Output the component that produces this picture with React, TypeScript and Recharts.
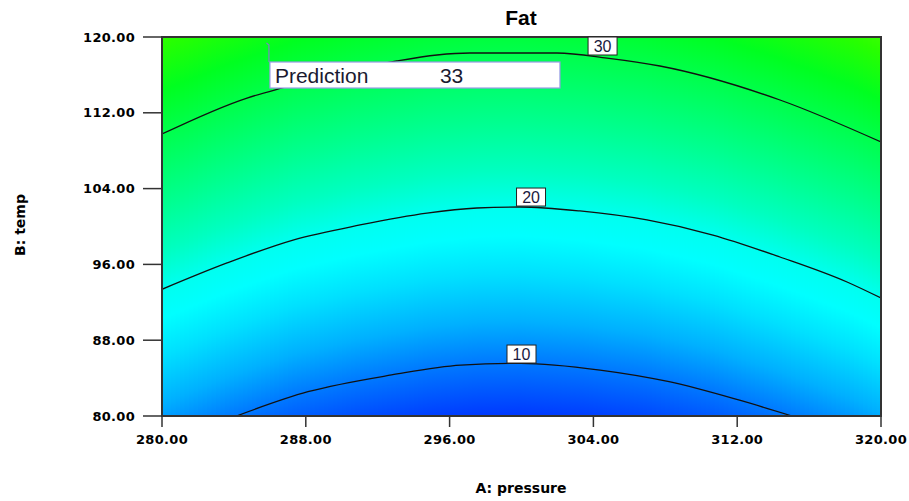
import React from 'react';
import {
  ComposedChart,
  Line,
  XAxis,
  YAxis,
  ReferenceArea,
  ReferenceDot,
} from 'recharts';

// ---------------- data ----------------
const pressureTicks = [280, 288, 296, 304, 312, 320];
const tempTicks = [80, 88, 96, 104, 112, 120];

const contour10 = [
  { pressure: 284.14, temp: 80.0 },
  { pressure: 288.12, temp: 82.56 },
  { pressure: 292.77, temp: 84.33 },
  { pressure: 296.63, temp: 85.38 },
  { pressure: 299.97, temp: 85.56 },
  { pressure: 304.37, temp: 84.85 },
  { pressure: 308.21, temp: 83.62 },
  { pressure: 312.08, temp: 81.69 },
  { pressure: 315.05, temp: 80.0 },
];

const contour20 = [
  { pressure: 280.0, temp: 93.37 },
  { pressure: 283.62, temp: 96.15 },
  { pressure: 287.29, temp: 98.57 },
  { pressure: 291.02, temp: 100.16 },
  { pressure: 294.74, temp: 101.42 },
  { pressure: 297.52, temp: 101.95 },
  { pressure: 299.92, temp: 102.06 },
  { pressure: 303.25, temp: 101.64 },
  { pressure: 306.98, temp: 100.69 },
  { pressure: 310.65, temp: 99.1 },
  { pressure: 314.38, temp: 96.78 },
  { pressure: 318.11, temp: 94.14 },
  { pressure: 320.0, temp: 92.45 },
];

const contour30 = [
  { pressure: 280.0, temp: 109.76 },
  { pressure: 284.73, temp: 113.56 },
  { pressure: 286.68, temp: 114.62 },
  { pressure: 293.07, temp: 117.47 },
  { pressure: 295.3, temp: 118.1 },
  { pressure: 297.13, temp: 118.31 },
  { pressure: 301.97, temp: 118.31 },
  { pressure: 304.76, temp: 117.78 },
  { pressure: 307.7, temp: 116.94 },
  { pressure: 314.38, temp: 113.35 },
  { pressure: 320.0, temp: 108.92 },
];

const contourLabels = [
  { level: 30, pressure: 304.51, temp: 119.05 },
  { level: 20, pressure: 300.53, temp: 103.11 },
  { level: 10, pressure: 300.0, temp: 86.54 },
];

const predictionPoint = { pressure: 285.95, temp: 119.26 };
const predictionLabel = 'Prediction';
const predictionValue = 33;

// ---------------- styles ----------------
const W = 909;
const H = 501;
const AXIS_COLOR = '#333';
const TICK_FONT = { fill: '#000', fontSize: 13, fontWeight: 700, fontFamily: 'DejaVu Sans', letterSpacing: 0.3 };

// colour map in "centre-equivalent temperature" units (ascending)
const colorMap = [
  { v: 76, c: '#0020ff' },
  { v: 80, c: '#0038ff' },
  { v: 85.6, c: '#0078ff' },
  { v: 90, c: '#00b0ff' },
  { v: 95, c: '#00e0ff' },
  { v: 99, c: '#00ffff' },
  { v: 102, c: '#00fff0' },
  { v: 106, c: '#00ffc0' },
  { v: 111, c: '#00ff90' },
  { v: 118, c: '#00ff50' },
  { v: 123, c: '#00ff20' },
  { v: 128, c: '#28ff00' },
  { v: 132, c: '#50ff00' },
];
const colorMapTopDown = [...colorMap].reverse();
const V_TOP = colorMap[colorMap.length - 1].v;
const V_BOT = colorMap[0].v;

function interpTemp(pts: { pressure: number; temp: number }[], x: number) {
  if (x <= pts[0].pressure) return pts[0].temp;
  for (let i = 1; i < pts.length; i++) {
    if (x <= pts[i].pressure) {
      const a = pts[i - 1];
      const b = pts[i];
      const t = (x - a.pressure) / (b.pressure - a.pressure);
      return a.temp + t * (b.temp - a.temp);
    }
  }
  return pts[pts.length - 1].temp;
}

const peak20 = Math.max(...contour20.map((p) => p.temp));
const STRIP = 0.25;
const X0 = pressureTicks[0];
const X1 = pressureTicks[pressureTicks.length - 1];
const Y0 = tempTicks[0];
const Y1 = tempTicks[tempTicks.length - 1];
const stripCount = Math.round((X1 - X0) / STRIP);
const strips = Array.from({ length: stripCount }, (_, i) => {
  const x1 = X0 + i * STRIP;
  const xm = x1 + STRIP / 2;
  const D = peak20 - interpTemp(contour20, xm);
  const span = Y1 - Y0;
  return {
    id: `bg${i}`,
    x1,
    x2: Math.min(X1, x1 + STRIP * 1.6),
    gy1: (Y1 - (V_TOP - D)) / span,
    gy2: (Y1 - (V_BOT - D)) / span,
  };
});

const ContourLabel = (props: any) => {
  const { cx, cy, level } = props;
  if (cx == null || cy == null) return null;
  return (
    <g>
      <rect x={cx - 14.5} y={cy - 9} width={29} height={18} fill="#fff" stroke="#222" strokeWidth={1} />
      <text
        x={cx}
        y={cy + 0.5}
        textAnchor="middle"
        dominantBaseline="central"
        fontFamily="Liberation Sans, Arial, sans-serif"
        fontSize={16}
        fill="#1a1a40"
      >
        {level}
      </text>
    </g>
  );
};

const PredictionFlag = (props: any) => {
  const { cx, cy } = props;
  if (cx == null || cy == null) return null;
  return (
    <g>
      <path d={`M${cx - 2.5},${cy - 1} L${cx},${cy + 1} L${cx},${cy + 18}`} stroke="#8080c8" strokeWidth={1.2} fill="none" />
      <rect x={cx + 1} y={cy + 18} width={290} height={26} fill="#fff" stroke="#9a9ae6" strokeWidth={1.2} />
      <text x={cx + 6} y={cy + 38.5} fontFamily="Liberation Sans, Arial, sans-serif" fontSize={21} fill="#1a1a30">
        {predictionLabel}
      </text>
      <text x={cx + 171} y={cy + 38.5} fontFamily="Liberation Sans, Arial, sans-serif" fontSize={21} fill="#1a1a30">
        {predictionValue}
      </text>
    </g>
  );
};

export default function App() {
  return (
    <div style={{ position: 'absolute', left: 0, top: 0, width: W, height: H, background: '#fff' }}>
      <ComposedChart width={W} height={H} margin={{ top: 37, right: 28, left: 0, bottom: 0 }}>
        <defs>
          {strips.map((s) => (
            <linearGradient key={s.id} id={s.id} x1="0" y1={s.gy1} x2="0" y2={s.gy2}>
              {colorMapTopDown.map((m) => (
                <stop key={m.v} offset={(V_TOP - m.v) / (V_TOP - V_BOT)} stopColor={m.c} />
              ))}
            </linearGradient>
          ))}
        </defs>
        <XAxis
          type="number"
          dataKey="pressure"
          domain={[X0, X1]}
          ticks={pressureTicks}
          allowDataOverflow
          height={85}
          tickSize={11}
          tickMargin={8}
          tickFormatter={(v: number) => v.toFixed(2)}
          tick={TICK_FONT}
          axisLine={{ stroke: AXIS_COLOR, strokeWidth: 2 }}
          tickLine={{ stroke: AXIS_COLOR, strokeWidth: 1.5 }}
        />
        <YAxis
          type="number"
          dataKey="temp"
          domain={[Y0, Y1]}
          ticks={tempTicks}
          allowDataOverflow
          width={162}
          tickSize={19}
          tickMargin={8}
          tickFormatter={(v: number) => v.toFixed(2)}
          tick={TICK_FONT}
          axisLine={{ stroke: AXIS_COLOR, strokeWidth: 2 }}
          tickLine={{ stroke: AXIS_COLOR, strokeWidth: 1.5 }}
        />
        {strips.map((s) => (
          <ReferenceArea
            key={s.id}
            x1={s.x1}
            x2={s.x2}
            y1={Y0}
            y2={Y1}
            fill={`url(#${s.id})`}
            fillOpacity={1}
            stroke="none"
            zIndex={50}
          />
        ))}
        <Line data={contour10} dataKey="temp" type="monotone" stroke="#111" strokeWidth={1.3} dot={false} activeDot={false} isAnimationActive={false} />
        <Line data={contour20} dataKey="temp" type="monotone" stroke="#111" strokeWidth={1.3} dot={false} activeDot={false} isAnimationActive={false} />
        <Line data={contour30} dataKey="temp" type="monotone" stroke="#111" strokeWidth={1.3} dot={false} activeDot={false} isAnimationActive={false} />
        <ReferenceArea x1={X0} x2={X1} y1={Y0} y2={Y1} fill="none" fillOpacity={0} stroke={AXIS_COLOR} strokeWidth={2} zIndex={650} />
        {contourLabels.map((l) => (
          <ReferenceDot
            key={l.level}
            x={l.pressure}
            y={l.temp}
            zIndex={700}
            shape={(p: any) => <ContourLabel {...p} level={l.level} />}
          />
        ))}
        <ReferenceDot
          x={predictionPoint.pressure}
          y={predictionPoint.temp}
          zIndex={710}
          shape={(p: any) => <PredictionFlag {...p} />}
        />
      </ComposedChart>
      <div
        style={{
          position: 'absolute',
          left: 421,
          width: 200,
          top: 6,
          textAlign: 'center',
          fontFamily: 'Liberation Sans, Arial, sans-serif',
          fontWeight: 700,
          fontSize: 21,
          lineHeight: '24px',
          color: '#000',
        }}
      >
        Fat
      </div>
      <div
        style={{
          position: 'absolute',
          left: 421,
          width: 200,
          top: 479,
          textAlign: 'center',
          fontFamily: 'DejaVu Sans',
          fontWeight: 700,
          fontSize: 14,
          lineHeight: '18px',
          color: '#000',
        }}
      >
        A: pressure
      </div>
      <div
        style={{
          position: 'absolute',
          left: 20,
          top: 225,
          width: 0,
          height: 0,
        }}
      >
        <div
          style={{
            position: 'absolute',
            left: -60,
            top: -9,
            width: 120,
            textAlign: 'center',
            transform: 'rotate(-90deg)',
            fontFamily: 'DejaVu Sans',
            fontWeight: 700,
            fontSize: 14,
            lineHeight: '18px',
            color: '#000',
          }}
        >
          B: temp
        </div>
      </div>
    </div>
  );
}
